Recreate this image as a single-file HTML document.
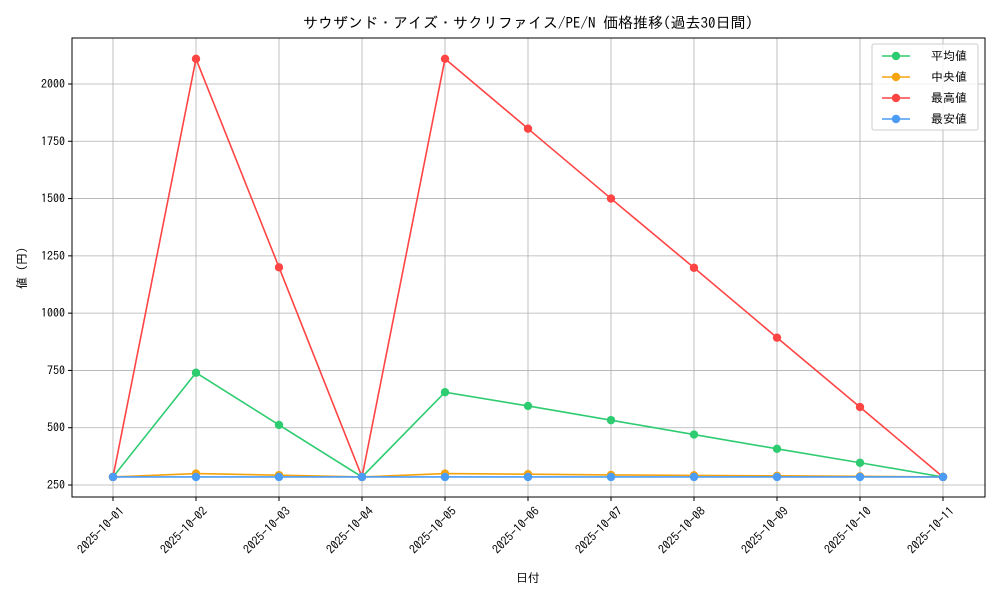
<!DOCTYPE html>
<html><head><meta charset="utf-8"><style>
body{margin:0;background:#fff;font-family:"Liberation Sans","IPAGothic",sans-serif;}
svg text{font-family:"IPAGothic","Noto Sans CJK JP",monospace;}
</style></head><body>
<svg id="chart" width="1000" height="600">
<rect width="1000" height="600" fill="#fff"/>
<text x="528" y="28" text-anchor="middle" font-size="15">サウザンド・アイズ・サクリファイス/PE/N 価格推移(過去30日間)</text>
<g id="grid"></g><g id="axes"></g><g id="series"></g>
<rect x="72" y="38" width="913" height="459" fill="none" stroke="#000" stroke-width="1"/>
<text x="528" y="582" text-anchor="middle" font-size="12">日付</text>
<text transform="translate(26,268) rotate(-90)" text-anchor="middle" font-size="12">値 (円)</text>
<g id="legend"></g>
</svg>
<script>
const categories=["2025-10-01","2025-10-02","2025-10-03","2025-10-04","2025-10-05","2025-10-06","2025-10-07","2025-10-08","2025-10-09","2025-10-10","2025-10-11"];
const avgValues=[285,740,512,285,655,595,533,470,408,347,285];
const medianValues=[285,300,293,285,300,297,294,292,290,288,285];
const maxValues=[285,2110,1200,285,2110,1805,1500,1198,893,590,285];
const minValues=[285,285,285,285,285,285,285,285,285,285,285];
const yTicks=[250,500,750,1000,1250,1500,1750,2000];
const seriesNames=["平均値","中央値","最高値","最安値"];
const NS="http://www.w3.org/2000/svg";
function xs(i){return 113+i*83;}
function ys(v){return 485-(v-250)*(401/1750);}
function mk(t,a,p){const e=document.createElementNS(NS,t);for(const k in a)e.setAttribute(k,a[k]);p.appendChild(e);return e;}
const grid=document.getElementById('grid'),axes=document.getElementById('axes'),ser=document.getElementById('series'),leg=document.getElementById('legend');
categories.forEach((c,i)=>{
 const g=mk('line',{x1:xs(i),x2:xs(i),y1:38,y2:497,stroke:'#b0b0b0','stroke-width':0.8},grid);
 
 
 mk('line',{x1:xs(i),x2:xs(i),y1:497,y2:501,stroke:'#000'},axes);
 const t=mk('text',{x:xs(i)+6,y:506,'font-size':12,'text-anchor':'end',transform:`rotate(-45 ${xs(i)+6} 506)`,dy:'0.7em'},axes);
 t.textContent=c;
 
 
});
yTicks.forEach(v=>{
 const g=mk('line',{x1:72,x2:985,y1:ys(v),y2:ys(v),stroke:'#b0b0b0','stroke-width':0.8},grid);
 
 
 mk('line',{x1:68,x2:72,y1:ys(v),y2:ys(v),stroke:'#000'},axes);
 const t=mk('text',{x:65,y:ys(v)+4,'font-size':12,'text-anchor':'end'},axes);
 t.textContent=v;
 
 
});
const all=[[avgValues,'#2ecc71','average-series'],[medianValues,'#f5a30f','median-series'],[maxValues,'#ff4444','max-series'],[minValues,'#4a9cf5','min-series']];
all.forEach(([vals,col,name],k)=>{
 const g=mk('g',{},ser);
 
 
 mk('polyline',{points:vals.map((v,i)=>xs(i)+','+ys(v)).join(' '),fill:'none',stroke:col,'stroke-width':1.6},g);
 vals.forEach((v,i)=>{const c=mk('circle',{cx:xs(i),cy:ys(v),r:4.2,fill:col},g);
  
  });
 const ly=56+k*21;
 const le=mk('g',{},leg);
 
 
 mk('line',{x1:882,x2:910,y1:ly,y2:ly,stroke:col,'stroke-width':1.6},le);
 mk('circle',{cx:896,cy:ly,r:4.2,fill:col},le);
 const t=mk('text',{x:931,y:ly+4,'font-size':12},le);t.textContent=seriesNames[k];
});
const box=mk('rect',{x:872,y:44,width:106,height:86,fill:'#fff','fill-opacity':0.8,stroke:'#ccc',rx:2},leg);
leg.insertBefore(box,leg.firstChild);
</script>
</body></html>
